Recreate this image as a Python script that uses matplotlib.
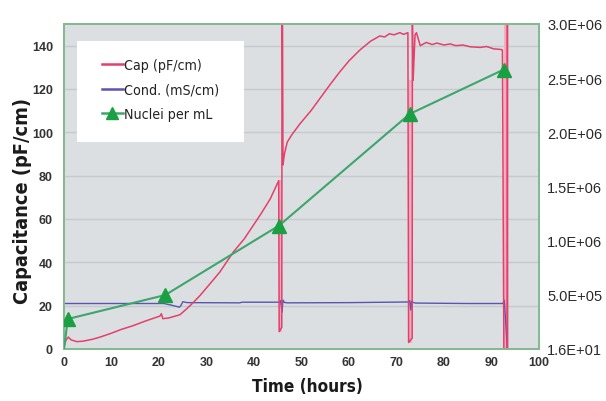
import matplotlib
matplotlib.use('Agg')
import matplotlib.pyplot as plt
from matplotlib import font_manager
from matplotlib.font_manager import FontProperties
from matplotlib.patches import Rectangle
from matplotlib.ticker import FuncFormatter, FixedLocator

# ---------------- data ----------------
cap_hours = [0.0, 0.4, 0.9, 1.5, 2.7, 4.0, 6.0, 7.6, 10.0, 12.0, 14.6, 17.0,
             20.2, 20.5, 20.8, 22.0, 24.4, 25.8, 27.0, 28.6, 30.5, 32.8, 35.6,
             38.0, 39.8, 41.5, 43.4, 45.2, 45.3, 45.85, 45.9, 46.0, 46.1, 46.4,
             47.0, 48.0, 49.7, 52.0, 54.0, 56.0, 58.1, 60.0, 62.3, 64.5, 66.5,
             67.5, 68.5, 69.5, 70.7, 71.5, 72.4, 72.55, 73.3, 73.35, 73.5, 73.9,
             74.2, 75.0, 76.3, 77.5, 78.5, 80.0, 81.3, 82.5, 84.0, 85.5, 87.6,
             89.0, 90.5, 91.8, 92.3, 92.4, 92.6, 93.3, 93.35, 93.4]
cap_values = [1.0, 4.0, 5.5, 4.2, 3.4, 3.6, 4.5, 5.5, 7.3, 9.0, 10.8, 12.8,
              15.2, 16.3, 14.0, 14.3, 15.8, 18.5, 21.0, 24.6, 29.5, 35.5, 44.6,
              51.0, 56.9, 62.5, 69.2, 77.7, 8.0, 10.0, 150.0, 150.0, 85.0, 90.0,
              95.5, 99.0, 104.0, 110.0, 116.0, 122.0, 128.0, 133.0, 138.0, 142.0,
              144.5, 144.0, 145.5, 145.0, 146.0, 145.2, 146.0, 3.0, 5.0, 150.0,
              124.0, 145.0, 146.0, 140.0, 141.5, 140.5, 141.2, 140.3, 140.8,
              140.0, 140.3, 139.5, 139.2, 139.6, 138.5, 138.3, 138.0, 95.0, 0.0,
              0.0, 150.0, 0.0]

cond_hours = [0.0, 21.0, 22.5, 24.3, 24.6, 25.0, 26.0, 37.0, 37.5, 45.3, 45.6,
              45.9, 46.1, 46.4, 47.0, 60.0, 72.5, 72.8, 73.0, 73.2, 73.5, 74.0,
              85.0, 92.4, 92.7, 93.0, 93.3]
cond_values = [21.0, 21.0, 20.3, 19.3, 20.0, 21.8, 21.4, 21.3, 21.6, 21.6, 22.3,
               17.0, 22.6, 21.5, 21.3, 21.4, 21.7, 22.3, 18.0, 22.0, 21.5, 21.2,
               21.0, 21.0, 22.5, 12.0, 0.0]

nuclei_hours = [0.0, 0.8, 21.3, 45.3, 72.8, 92.6]
nuclei_per_ml = [16, 2.77e5, 4.98e5, 1.14e6, 2.17e6, 2.58e6]

spike_start = [45.3, 72.55, 92.6]
spike_end = [45.9, 73.35, 93.35]
spike_low = [8, 3, 0]
spike_high = [78, 124, 150]

x_ticks = list(range(0, 101, 10))
left_ticks = list(range(0, 141, 20))
right_ticks = [16, 5e5, 1e6, 1.5e6, 2e6, 2.5e6, 3e6]
series_labels = ['Cap (pF/cm)', 'Cond. (mS/cm)', 'Nuclei per mL']

# ---------------- fonts ----------------
_fonts = font_manager.fontManager.ttflist
_narrow = [f for f in _fonts
           if any(k in (f.fname + ' ' + f.name).lower() for k in ('narrow', 'condensed', 'cond'))
           and 'italic' not in f.style and 'oblique' not in f.style
           and 'mono' not in f.name.lower()]


def _pick(bold):
    good = [f for f in _narrow if (f.weight in ('bold', 700, 'heavy', 800)) == bold]
    good.sort(key=lambda f: (0 if 'sans' in f.name.lower() else 1, f.name))
    return good[0].fname if good else None


NB_FILE = _pick(True)
NR_FILE = _pick(False)
HAVE_NARROW = NB_FILE is not None and NR_FILE is not None


def narrow(size, bold=False):
    if HAVE_NARROW:
        return FontProperties(fname=NB_FILE if bold else NR_FILE, size=size)
    return FontProperties(family='Liberation Sans', weight='bold' if bold else 'normal',
                          size=size * 1.05)


def regular(size):
    return FontProperties(family='Liberation Sans', size=size)


# ---------------- colors ----------------
BG = '#dcdfe1'
GRID = '#c6cacd'
SPINE = '#86b98f'
CAP = '#e3406b'
BAND = '#f3aec2'
COND = '#5b54b0'
NUC_LINE = '#3ca66c'
NUC_MARK = '#18a043'
TXT = '#2b2b2b'

fig = plt.figure(figsize=(6.06, 4.02), dpi=100)
ax = fig.add_axes([64 / 606, 52 / 402, 475 / 606, 325 / 402])
ax.set_facecolor(BG)
ax.set_xlim(0, 100)
ax.set_ylim(0, 150)

for s, e, lo, hi in zip(spike_start, spike_end, spike_low, spike_high):
    ax.fill_betweenx([lo, hi], s, e, color=BAND, lw=0, zorder=1.5)

cap_line, = ax.plot(cap_hours, cap_values, color=CAP, lw=1.1, zorder=3)
cond_line, = ax.plot(cond_hours, cond_values, color=COND, lw=1.0, zorder=2.5)

ax.xaxis.set_major_locator(FixedLocator(x_ticks))
ax.yaxis.set_major_locator(FixedLocator(left_ticks))
ax.yaxis.grid(True, color=GRID, lw=1.0)
ax.set_axisbelow(True)
ax.tick_params(axis='both', length=0, colors=TXT)
ax.tick_params(axis='y', pad=8)
ax.tick_params(axis='x', pad=5)
tick_fp = FontProperties(family='Liberation Sans', weight='bold', size=9)
for lab in ax.get_xticklabels() + ax.get_yticklabels():
    lab.set_fontproperties(tick_fp)
    lab.set_color('#333333')

ax.set_xlabel('Time (hours)', fontproperties=narrow(12.3, True), color='#1a1a1a')
ax.xaxis.set_label_coords(0.512, -0.086)
ax.set_ylabel('Capacitance (pF/cm)', fontproperties=narrow(14.3, True), color='#1a1a1a')
ax.yaxis.set_label_coords(-0.068, 0.46)

ax2 = ax.twinx()
ax2.set_ylim(16, 3.0e6)
ax2.patch.set_visible(False)
nuc_line, = ax2.plot(nuclei_hours, nuclei_per_ml, color=NUC_LINE, lw=1.5,
                     marker='^', markersize=10, markerfacecolor=NUC_MARK,
                     markeredgecolor=NUC_MARK, markevery=list(range(1, len(nuclei_hours))),
                     zorder=4)
ax2.yaxis.set_major_locator(FixedLocator(right_ticks))
ax2.yaxis.set_major_formatter(FuncFormatter(lambda v, p: f'{v:.1E}'))
ax2.tick_params(axis='y', length=0, pad=6, colors=TXT)
for lab in ax2.get_yticklabels():
    lab.set_fontproperties(regular(10.5))
    lab.set_color('#2a2a2a')

for a in (ax, ax2):
    for sp in a.spines.values():
        sp.set_color(SPINE)
        sp.set_linewidth(1.3)

# legend box
fig.patches.append(Rectangle((77 / 606, (402 - 143) / 402), 167 / 606, 101 / 402,
                             transform=fig.transFigure, facecolor='white',
                             edgecolor='none', zorder=1))
leg = fig.legend([cap_line, cond_line, nuc_line], series_labels,
                 loc='upper left', bbox_to_anchor=(102 / 606, (402 - 59) / 402),
                 frameon=False, borderpad=0, handlelength=1.45, handletextpad=0.1,
                 labelspacing=0.74, borderaxespad=0,
                 prop=narrow(10.2))
leg.set_zorder(5)
for h in leg.legend_handles:
    h.set_linewidth(1.8)
    if hasattr(h, 'set_markersize'):
        h.set_markersize(9)
for t in leg.get_texts():
    t.set_color('#222222')

fig.savefig('out.png', dpi=100)
